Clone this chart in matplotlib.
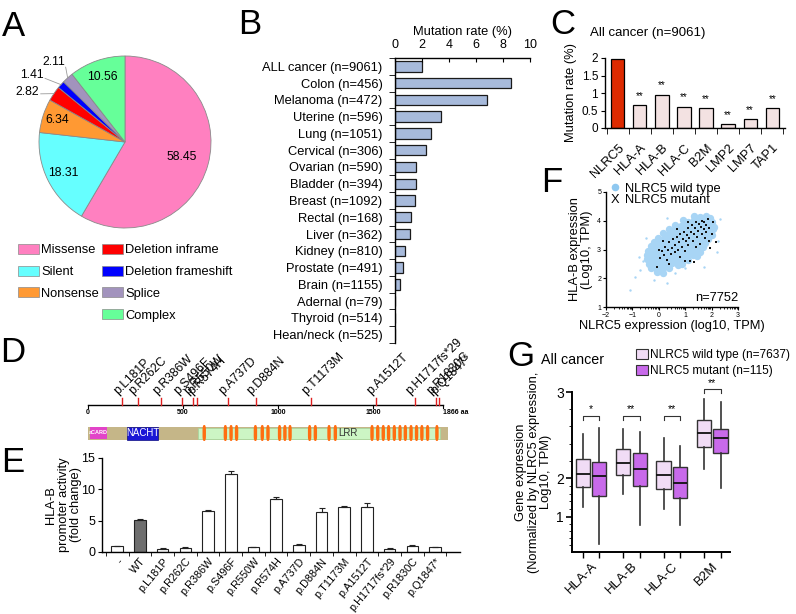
import numpy as np
import matplotlib.pyplot as plt
from matplotlib.patches import Rectangle, FancyBboxPatch, Patch

plt.rcParams['font.family'] = ['Liberation Sans', 'DejaVu Sans']
plt.rcParams['axes.linewidth'] = 1.0

W, H = 796, 614

# ---- A: NLRC5 mutation types (%)
mut_types = ['Missense', 'Silent', 'Nonsense', 'Deletion inframe',
             'Deletion frameshift', 'Splice', 'Complex']
mut_pct = [58.45, 18.31, 6.34, 2.82, 1.41, 2.11, 10.56]

# ---- B: mutation rate per cancer type (%)
cancers = ['ALL cancer (n=9061)', 'Colon (n=456)', 'Melanoma (n=472)', 'Uterine (n=596)',
           'Lung (n=1051)', 'Cervical (n=306)', 'Ovarian (n=590)', 'Bladder (n=394)',
           'Breast (n=1092)', 'Rectal (n=168)', 'Liver (n=362)', 'Kidney (n=810)',
           'Prostate (n=491)', 'Brain (n=1155)', 'Adernal (n=79)', 'Thyroid (n=514)',
           'Hean/neck (n=525)']
cancer_rate = [1.98, 8.56, 6.83, 3.43, 2.64, 2.30, 1.53, 1.56, 1.51, 1.21, 1.14,
               0.74, 0.62, 0.37, 0, 0, 0]

# ---- C: mutation rate of MHC class I genes, all cancer
genes = ['NLRC5', 'HLA-A', 'HLA-B', 'HLA-C', 'B2M', 'LMP2', 'LMP7', 'TAP1']
gene_rate = [1.98, 0.65, 0.95, 0.61, 0.57, 0.12, 0.25, 0.57]

# ---- D: NLRC5 protein map
protein_len = 1866
mutations = ['p.L181P', 'p.R262C', 'p.R386W', 'p.S496F', 'p.R550W', 'p.R574H', 'p.A737D',
             'p.D884N', 'p.T1173M', 'p.A1512T', 'p.H1717fs*29', 'p.R1830C', 'p.Q1847*']
mut_pos = [181, 262, 386, 496, 550, 574, 737, 884, 1173, 1512, 1717, 1830, 1847]
card = (10, 100)
nacht = (205, 370)
lrr_region = (578, 1850)
lrr_pos = [611, 722, 752, 781, 880, 916, 946, 1007, 1035, 1062, 1165, 1195, 1267, 1300,
           1493, 1523, 1552, 1580, 1610, 1640, 1668, 1698, 1727, 1755, 1785, 1834]

# ---- E: HLA-B promoter activity (fold change)
constructs = ['-', 'WT'] + mutations
activity = [0.96, 5.09, 0.54, 0.70, 6.59, 12.43, 0.75, 8.41, 1.07, 6.37, 7.23, 7.23,
            0.43, 1.02, 0.75]
activity_err = [0.05, 0.15, 0.05, 0.16, 0.05, 0.43, 0.03, 0.32, 0.16, 0.59, 0.05, 0.64,
                0.17, 0.03, 0.05]

# ---- F: NLRC5 vs HLA-B expression (log10 TPM)
wt_xy = [(1.32, 4.16), (1.55, 4.12), (1.78, 4.18), (1.95, 4.1),
         (0.92, 4.02), (1.12, 3.97), (1.35, 4.03), (1.58, 3.98), (1.8, 4.02), (2.02, 3.96),
         (0.62, 3.86), (0.83, 3.83), (1.05, 3.88), (1.27, 3.84), (1.48, 3.87), (1.7, 3.82),
         (1.92, 3.86), (2.1, 3.8),
         (0.38, 3.71), (0.58, 3.68), (0.8, 3.72), (1.01, 3.69), (1.22, 3.73), (1.44, 3.68),
         (1.66, 3.71), (1.88, 3.67), (2.07, 3.72),
         (0.16, 3.56), (0.37, 3.53), (0.58, 3.57), (0.8, 3.54), (1.02, 3.58), (1.23, 3.52),
         (1.45, 3.56), (1.67, 3.53), (1.88, 3.57), (2.0, 3.5),
         (-0.04, 3.41), (0.18, 3.38), (0.4, 3.42), (0.61, 3.39), (0.83, 3.43), (1.05, 3.38),
         (1.26, 3.41), (1.48, 3.37), (1.7, 3.42), (1.88, 3.38),
         (-0.19, 3.26), (0.03, 3.23), (0.25, 3.27), (0.46, 3.24), (0.68, 3.28), (0.9, 3.22),
         (1.11, 3.26), (1.33, 3.23), (1.55, 3.27), (1.76, 3.22),
         (-0.3, 3.11), (-0.08, 3.08), (0.14, 3.12), (0.35, 3.09), (0.57, 3.13), (0.79, 3.07),
         (1.0, 3.11), (1.22, 3.08), (1.44, 3.12), (1.68, 3.09),
         (-0.4, 2.96), (-0.18, 2.93), (0.04, 2.97), (0.25, 2.94), (0.47, 2.98), (0.69, 2.92),
         (0.9, 2.96), (1.12, 2.93), (1.34, 2.97), (1.56, 2.92),
         (-0.44, 2.81), (-0.22, 2.78), (0.0, 2.82), (0.21, 2.79), (0.43, 2.83), (0.65, 2.77),
         (0.86, 2.81), (1.08, 2.78), (1.3, 2.82), (1.45, 2.77),
         (-0.43, 2.66), (-0.21, 2.63), (0.01, 2.67), (0.22, 2.64), (0.44, 2.68), (0.66, 2.62),
         (0.87, 2.66), (1.1, 2.63),
         (-0.38, 2.51), (-0.16, 2.48), (0.06, 2.52), (0.28, 2.49), (0.5, 2.53), (0.72, 2.47),
         (0.88, 2.5),
         (-0.28, 2.36), (-0.06, 2.33), (0.16, 2.37), (0.4, 2.34),
         (-0.08, 2.21), (0.15, 2.18)]
wt_sparse = [(-1.09, 1.59), (0.3, 1.82), (-0.71, 2.29), (-0.9, 2.05), (-0.6, 2.6),
             (0.6, 2.2), (1.0, 2.35), (2.25, 3.3), (2.3, 4.05), (-0.5, 3.4), (0.3, 4.1),
             (1.7, 2.4), (-0.2, 1.95), (-0.75, 2.75), (2.2, 2.9)]
mt_xy = [(-0.08, 2.38), (0.05, 2.72), (0.12, 2.95), (0.2, 2.8), (0.25, 3.1), (0.3, 2.65),
         (0.35, 3.0), (0.4, 3.25), (0.45, 2.85), (0.5, 3.05), (0.55, 3.35), (0.6, 2.9),
         (0.62, 3.15), (0.68, 3.45), (0.72, 3.0), (0.75, 3.25), (0.8, 3.55), (0.82, 2.75),
         (0.88, 3.1), (0.9, 3.38), (0.95, 3.6), (0.98, 2.95), (1.02, 3.3), (1.05, 3.5),
         (1.1, 3.75), (1.12, 3.15), (1.15, 3.4), (1.2, 2.6), (1.22, 3.62), (1.25, 3.85),
         (1.3, 3.3), (1.32, 3.55), (1.35, 2.55), (1.38, 3.75), (1.42, 3.95), (1.45, 3.45),
         (1.5, 3.65), (1.52, 3.9), (1.55, 3.2), (1.6, 3.8), (1.62, 4.0), (1.65, 3.55),
         (1.7, 3.7), (1.72, 3.95), (1.78, 3.6), (1.8, 3.85), (1.85, 4.05), (1.9, 3.3),
         (1.92, 3.75), (1.95, 3.05), (2.0, 3.55), (2.05, 3.95), (2.15, 3.25), (0.0, 3.0),
         (0.15, 3.3), (0.4, 2.5), (1.0, 2.6), (1.4, 3.1), (1.75, 3.4), (0.7, 3.7), (1.1, 3.95)]

# ---- G: normalized gene expression boxplots
g_genes = ['HLA-A', 'HLA-B', 'HLA-C', 'B2M']
g_sig = ['*', '**', '**', '**']
wt_lo = [1.26, 1.58, 1.21, 2.10]
wt_q1 = [1.76, 2.03, 1.72, 2.36]
wt_med = [2.05, 2.18, 2.03, 2.52]
wt_q3 = [2.22, 2.34, 2.20, 2.68]
wt_hi = [2.51, 2.57, 2.47, 2.92]
mt_lo = [0.62, 0.89, 0.88, 1.74]
mt_q1 = [1.54, 1.80, 1.49, 2.29]
mt_med = [2.02, 2.11, 1.86, 2.46]
mt_q3 = [2.19, 2.29, 2.13, 2.57]
mt_hi = [2.58, 2.53, 2.37, 2.88]

fig = plt.figure(figsize=(W / 100, H / 100), dpi=100)


def px_axes(left, top, right, bottom):
    return fig.add_axes([left / W, 1 - bottom / H, (right - left) / W, (bottom - top) / H])


def fig_text(x, y, s, **kw):
    fig.text(x / W, 1 - y / H, s, **kw)


for lab, x, y in [('A', 13, 26), ('B', 250, 25), ('C', 563, 24), ('D', 13, 352),
                  ('E', 13, 462), ('F', 552, 182), ('G', 521, 356)]:
    fig_text(x, y, lab, fontsize=25, ha='center', va='center')

# ================= A
pie_colors = ['#FF80C0', '#66FFFF', '#FF9933', '#FF0000', '#0000FF', '#A293BD', '#66FF99']
ax = px_axes(39, 56, 211, 228)
wedges, _ = ax.pie(mut_pct, colors=pie_colors, startangle=90, counterclock=False,
                   wedgeprops=dict(edgecolor='#8a8a8a', linewidth=0.6))
ax.set_xlim(-1, 1)
ax.set_ylim(-1, 1)
inner_r = [0.68, 0.8, 0.83, None, None, None, 0.8]
outer_text = {3: (-1.0, 0.58), 4: (-0.94, 0.78), 5: (-0.7, 0.93)}
outer_lead = {3: (-0.98, 0.56), 4: (-0.93, 0.74), 5: (-0.69, 0.87)}
for i, (w, pct) in enumerate(zip(wedges, mut_pct)):
    ang = np.deg2rad((w.theta1 + w.theta2) / 2)
    if inner_r[i] is not None:
        ax.text(inner_r[i] * np.cos(ang), inner_r[i] * np.sin(ang), f'{pct:.2f}',
                ha='center', va='center', fontsize=8.8)
    else:
        lx, ly = outer_lead[i]
        ax.plot([lx, np.cos(ang)], [ly, np.sin(ang)], color='#9a9a9a', lw=0.6,
                clip_on=False)
        tx, ty = outer_text[i]
        ax.text(tx, ty, f'{pct:.2f}', ha='right', va='center', fontsize=8.8)

handles = [Patch(facecolor=c, edgecolor='#8a8a8a', lw=0.5) for c in pie_colors]
leg_kw = dict(loc='upper left', frameon=False, fontsize=9.3, handlelength=1.65,
              handleheight=0.8, handletextpad=0.15, labelspacing=0.72,
              borderaxespad=0, borderpad=0)
fig.legend(handles[:3], mut_types[:3], bbox_to_anchor=(18 / W, 1 - 244 / H), **leg_kw)
fig.legend(handles[3:], mut_types[3:], bbox_to_anchor=(102 / W, 1 - 244 / H), **leg_kw)

# ================= B
ax = px_axes(395, 58, 530, 343)
yb = np.arange(len(cancers))
ax.barh(yb, cancer_rate, height=0.62, color='#A7BADB', edgecolor='#1a1a1a', lw=0.9)
ax.set_ylim(len(cancers) - 0.7, -0.5)
ax.set_xlim(0, 10)
ax.xaxis.tick_top()
ax.xaxis.set_label_position('top')
ax.set_xlabel('Mutation rate (%)', fontsize=9.3, labelpad=3)
ax.set_xticks(range(0, 11, 2))
ax.tick_params(axis='x', labelsize=9, length=3, direction='in', pad=5)
ax.set_yticks(yb, cancers, fontsize=9.3)
ax.set_yticks(np.arange(-0.5, len(cancers)), minor=True)
ax.tick_params(axis='y', which='major', length=0, pad=9)
ax.tick_params(axis='y', which='minor', length=4, direction='out')
ax.spines[['right', 'bottom']].set_visible(False)

# ================= C
ax = px_axes(605, 58, 785, 128)
xc = np.arange(len(genes))
ax.bar(xc, gene_rate, width=0.6, color=['#DD2A00'] + ['#F3E2E2'] * (len(genes) - 1),
       edgecolor='k', lw=0.9)
for i in xc[1:]:
    ax.text(i, gene_rate[i] + 0.12, '**', ha='center', va='bottom', fontsize=7)
ax.set_ylim(0, 2)
ax.set_xlim(-0.58, len(genes) - 0.42)
ax.set_yticks([0, 0.5, 1, 1.5, 2], ['0', '0.5', '1', '1.5', '2'])
ax.tick_params(axis='y', labelsize=8.5, length=3, pad=2)
ax.set_xticks(xc, genes, rotation=45, ha='right', rotation_mode='anchor')
ax.tick_params(axis='x', which='major', length=0, labelsize=9.3, pad=10)
ax.set_xticks(np.arange(-0.5, len(genes)), minor=True)
ax.tick_params(axis='x', which='minor', length=4)
ax.set_ylabel('Mutation rate (%)', fontsize=9.3, labelpad=3)
ax.spines[['right', 'top']].set_visible(False)
fig_text(590, 33, 'All cancer (n=9061)', fontsize=9.5, ha='left', va='center')

# ================= D
ax = px_axes(88, 340, 443, 445)
ax.set_xlim(0, protein_len)
ax.set_ylim(105, 0)
ax.axis('off')
ax.plot([0, protein_len], [65, 65], color='k', lw=1, clip_on=False)
for t in [0, 500, 1000, 1500, protein_len]:
    ax.plot([t, t], [65, 68], color='k', lw=0.8, clip_on=False)
    ax.text(t, 72, str(t) + (' aa' if t == protein_len else ''), fontsize=5,
            fontweight='bold', ha='left' if t == protein_len else 'center', va='center',
            clip_on=False)
for p, lab in zip(mut_pos, mutations):
    ax.plot([p, p], [65, 58], color='#E02020', lw=1, clip_on=False)
    ax.text(p - 14, 57, lab, rotation=45, fontsize=8.8, ha='left', va='bottom',
            rotation_mode='anchor', clip_on=False)
ax.add_patch(Rectangle((0, 86.5), 1890, 13, facecolor='#C5B688', edgecolor='none',
                       clip_on=False))
ax.add_patch(Rectangle((lrr_region[0], 87.5), lrr_region[1] - lrr_region[0], 11,
                       facecolor='#CCF5C4', edgecolor='#9ad69a', lw=0.4, clip_on=False))
ax.add_patch(Rectangle((card[0], 87), card[1] - card[0], 12, facecolor='#E244C8',
                       edgecolor='none', clip_on=False))
ax.text(sum(card) / 2, 93, 'aCARD', color='white', fontsize=4, ha='center',
        va='center', fontweight='bold')
ax.add_patch(Rectangle((nacht[0], 86.5), nacht[1] - nacht[0], 13, facecolor='#1A16D6',
                       edgecolor='#0c0c80', lw=0.5, clip_on=False))
ax.text(sum(nacht) / 2, 93, 'NACHT', color='white', fontsize=7, ha='center', va='center')
for p in lrr_pos:
    ax.add_patch(FancyBboxPatch((p - 9, 85), 18, 16,
                                boxstyle='round,pad=0,rounding_size=8',
                                mutation_aspect=0.6, facecolor='#FF6E10',
                                edgecolor='none', clip_on=False))
ax.text(1367, 93, 'LRR', fontsize=7, ha='center', va='center', color='#333333')

# ================= E
ax = px_axes(102, 458, 460, 552)
xe = np.arange(len(constructs))
ax.bar(xe, activity, width=0.51,
       color=['white', '#6E6E6E'] + ['white'] * (len(constructs) - 2),
       edgecolor='#222222', lw=0.8)
ax.errorbar(xe, activity, yerr=[np.zeros(len(xe)), activity_err], fmt='none',
            ecolor='#222222', elinewidth=0.8, capsize=2, capthick=0.8)
ax.set_ylim(0, 15)
ax.set_xlim(-0.67, len(constructs) + 0.1)
ax.set_yticks([0, 5, 10, 15])
ax.tick_params(axis='y', labelsize=9, length=3, pad=2)
ax.set_xticks(xe, constructs, rotation=50, ha='right', rotation_mode='anchor')
ax.tick_params(axis='x', which='major', length=0, labelsize=7.8, pad=3)
ax.set_xticks(np.arange(-0.5, len(constructs)), minor=True)
ax.tick_params(axis='x', which='minor', length=3)
ax.set_ylabel('HLA-B\npromoter activity\n(fold change)', fontsize=9.3, linespacing=1.05)
ax.yaxis.set_label_coords(-0.055, 0.5)
ax.spines[['right', 'top']].set_visible(False)

# ================= F
ax = px_axes(606, 192, 738, 307)
ax.scatter([p[0] for p in wt_xy], [p[1] for p in wt_xy], s=28, color='#A8D5F5', lw=0,
           zorder=1)
ax.scatter([p[0] for p in wt_sparse], [p[1] for p in wt_sparse], s=3, color='#A8D5F5',
           lw=0, zorder=1)
ax.scatter([p[0] for p in mt_xy], [p[1] for p in mt_xy], s=4, marker='s', color='#151515',
           lw=0, zorder=2)
ax.set_xlim(-2, 3)
ax.set_ylim(1, 5)
ax.set_xticks(range(-2, 4))
ax.set_yticks(range(1, 6))
ax.set_xticks([k + np.log10(m) for k in range(-2, 3) for m in range(2, 10)], minor=True)
ax.tick_params(labelsize=5, length=2.5, pad=1)
ax.tick_params(which='minor', length=1.5)
ax.spines[['right', 'top']].set_visible(False)
ax.set_xlabel('NLRC5 expression (log10, TPM)', fontsize=9.3, labelpad=1)
ax.set_ylabel('HLA-B expression\n(Log10, TPM)', fontsize=9.3, labelpad=3, linespacing=1.0)
ax.scatter([0.068], [1.043], s=30, color='#8FC8F0', lw=0, transform=ax.transAxes,
           clip_on=False)
ax.text(0.068, 0.93, 'X', fontsize=9.3, ha='center', va='center', transform=ax.transAxes)
ax.text(0.145, 1.03, 'NLRC5 wild type', fontsize=9.3, ha='left', va='center',
        transform=ax.transAxes)
ax.text(0.145, 0.93, 'NLRC5 mutant', fontsize=9.3, ha='left', va='center',
        transform=ax.transAxes)
ax.text(0.84, 0.08, 'n=7752', fontsize=9.3, ha='center', va='center',
        transform=ax.transAxes)

# ================= G
val_knots = [0.5, 1, 2, 3, 4]
pos_knots = [0, 35, 74, 160, 246]
fwd = lambda v: np.interp(v, val_knots, pos_knots)
inv = lambda p: np.interp(p, pos_knots, val_knots)

ax = px_axes(572, 392, 730, 552)
ax.set_yscale('function', functions=(fwd, inv))
groups = np.arange(len(g_genes))
off = 0.205
wt_stats = [dict(whislo=a, q1=b, med=c, q3=d, whishi=e)
            for a, b, c, d, e in zip(wt_lo, wt_q1, wt_med, wt_q3, wt_hi)]
mt_stats = [dict(whislo=a, q1=b, med=c, q3=d, whishi=e)
            for a, b, c, d, e in zip(mt_lo, mt_q1, mt_med, mt_q3, mt_hi)]
box_kw = dict(widths=0.35, patch_artist=True, showfliers=False, showcaps=False,
              medianprops=dict(color='#111111', lw=1.3),
              whiskerprops=dict(color='#333333', lw=1.2))
ax.bxp(wt_stats, positions=groups - off,
       boxprops=dict(facecolor='#F1DCF6', edgecolor='#333333', lw=1.0), **box_kw)
ax.bxp(mt_stats, positions=groups + off,
       boxprops=dict(facecolor='#C86AEA', edgecolor='#333333', lw=1.0), **box_kw)
for g, s in zip(groups, g_sig):
    yb_ = 3.03 if g_genes[g] == 'B2M' else 2.72
    ax.plot([g - off, g - off, g + off, g + off], [yb_ - 0.04, yb_, yb_, yb_ - 0.04],
            color='#333333', lw=0.8, clip_on=False)
    ax.text(g, yb_ + 0.02, s, ha='center', va='bottom', fontsize=7.5, clip_on=False)
ax.set_ylim(0.5, 3)
ax.set_xlim(-0.47, 3.44)
ax.set_yticks([1, 2, 3])
ax.set_yticks([0.6, 0.7, 0.8, 0.9, 1.2, 1.4, 1.6, 1.8, 2.2, 2.4, 2.6, 2.8], minor=True)
ax.tick_params(axis='y', labelsize=10, length=4, width=1.2, pad=2)
ax.tick_params(axis='y', which='minor', length=2.5)
ax.set_xticks(groups, g_genes, rotation=45, ha='right', rotation_mode='anchor')
ax.tick_params(axis='x', which='major', length=0, labelsize=9.5, pad=6)
ax.set_xticks(np.concatenate([groups - off, groups + off]), minor=True)
ax.tick_params(axis='x', which='minor', length=4, width=1.0)
ax.spines[['right', 'top']].set_visible(False)
ax.spines[['left', 'bottom']].set_linewidth(1.4)
ax.set_ylabel('Gene expression\n(Normalized by NLRC5 expression,\nLog10, TPM)',
              fontsize=9.3, linespacing=1.05)
ax.yaxis.set_label_coords(-0.125, 0.5)
fig_text(541, 360, 'All cancer', fontsize=10.3, ha='left', va='center')
g_handles = [Patch(facecolor='#F1DCF6', edgecolor='#333333', lw=0.8),
             Patch(facecolor='#C86AEA', edgecolor='#333333', lw=0.8)]
fig.legend(g_handles, ['NLRC5 wild type (n=7637)', 'NLRC5 mutant (n=115)'],
           loc='upper left', bbox_to_anchor=(636 / W, 1 - 349 / H), frameon=False,
           fontsize=8.6, handlelength=1.0, handleheight=0.9, handletextpad=0.2,
           labelspacing=0.3, borderaxespad=0, borderpad=0)

fig.savefig('out.png', dpi=100, facecolor='white')
